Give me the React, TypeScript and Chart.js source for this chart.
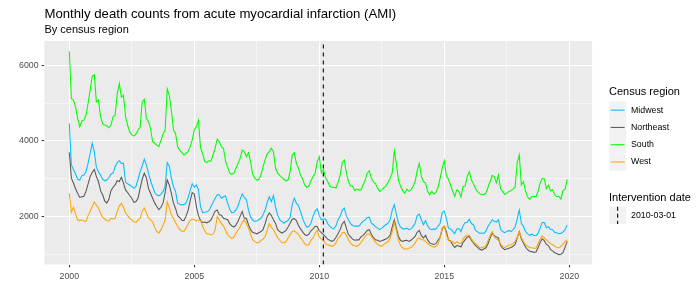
import React, { useEffect, useRef } from 'react';
import { Chart, registerables } from 'chart.js';

Chart.register(...registerables);

const FONT = '"Liberation Sans", Arial, Helvetica, sans-serif';

const titleText = 'Monthly death counts from acute myocardial infarction (AMI)';
const subtitleText = 'By census region';
const startYear = 2000;
const xTicks = [2000, 2002.5, 2005, 2007.5, 2010, 2012.5, 2015, 2017.5, 2020];
const yTicks = [1000, 2000, 3000, 4000, 5000, 6000];
const interventionLabel = '2010-03-01';
const interventionDate = 2010 + 59 / 365;

const regions = ['Midwest', 'Northeast', 'South', 'West'];
const colors = ['#00BFFF', '#595959', '#00FF00', '#FFA500'];

// Monthly counts, Jan 2000 .. Dec 2019 (one row per year)
const midwest = [
  4460, 3370, 3250, 3130, 2990, 2970, 3080, 3100, 3190, 3410, 3670, 3940,
  3720, 3310, 3190, 3100, 2990, 2950, 2970, 3030, 3130, 3150, 3320, 3430,
  3480, 3410, 3410, 2910, 2870, 2840, 2800, 2750, 2800, 2990, 3190, 3340,
  3520, 3370, 3150, 2950, 2800, 2640, 2580, 2550, 2590, 2670, 2800, 3430,
  3340, 3020, 2800, 2670, 2360, 2330, 2310, 2320, 2360, 2500, 2690, 2870,
  2780, 2840, 2710, 2270, 2110, 2120, 2130, 2160, 2270, 2380, 2490, 2580,
  2580, 2490, 2530, 2550, 2360, 2200, 2110, 2120, 2180, 2290, 2460, 2600,
  2510, 2450, 2180, 1990, 1920, 1880, 1890, 1920, 1960, 2050, 2180, 2380,
  2530, 2400, 2560, 2250, 2050, 1920, 1880, 1830, 1870, 1900, 1990, 2320,
  2490, 2360, 2290, 2140, 1960, 1820, 1720, 1750, 1830, 2010, 2150, 2210,
  2030, 1920, 1940, 1940, 1820, 1750, 1700, 1680, 1760, 1920, 2010, 2170,
  2230, 2030, 1920, 1820, 1770, 1750, 1760, 1750, 1820, 1880, 1920, 1980,
  1990, 1830, 1790, 1740, 1700, 1660, 1700, 1750, 1790, 1830, 1920, 2170,
  2320, 2070, 1830, 1730, 1680, 1680, 1700, 1660, 1680, 1740, 1830, 2030,
  2070, 1920, 1790, 1900, 1760, 1680, 1660, 1680, 1670, 1750, 1830, 2110,
  2150, 1960, 1700, 1680, 1620, 1550, 1680, 1690, 1610, 1760, 1850, 1850,
  1940, 1820, 1790, 1640, 1600, 1560, 1570, 1560, 1620, 1750, 1830, 1920,
  1880, 1860, 1920, 1670, 1610, 1580, 1610, 1640, 1610, 1660, 1730, 1940,
  2180, 1830, 1750, 1610, 1550, 1510, 1540, 1510, 1500, 1560, 1700, 1850,
  1850, 1710, 1740, 1670, 1660, 1590, 1570, 1560, 1560, 1600, 1660, 1780,
];

const northeast = [
  3700, 3020, 2890, 2740, 2620, 2510, 2530, 2540, 2670, 2860, 3060, 3170,
  3250, 3060, 2930, 2690, 2580, 2420, 2360, 2460, 2690, 2780, 2840, 2950,
  2930, 3040, 2890, 2710, 2640, 2560, 2490, 2380, 2400, 2490, 2750, 2990,
  3150, 3030, 2750, 2620, 2490, 2360, 2270, 2190, 2250, 2360, 2640, 2970,
  2840, 2620, 2360, 2220, 2030, 1980, 1910, 1900, 2010, 2160, 2420, 2640,
  2600, 2270, 2030, 1900, 1850, 1860, 1840, 1870, 1920, 2030, 2150, 2180,
  2050, 2040, 1960, 1940, 1920, 1820, 1760, 1730, 1780, 1880, 2010, 2140,
  1960, 1960, 1790, 1660, 1590, 1570, 1550, 1580, 1610, 1660, 1820, 2010,
  2100, 2030, 1920, 1820, 1660, 1610, 1570, 1600, 1640, 1730, 1830, 1940,
  1950, 1900, 1770, 1680, 1600, 1530, 1500, 1540, 1630, 1680, 1750, 1745,
  1630, 1580, 1530, 1470, 1410, 1380, 1350, 1380, 1460, 1550, 1660, 1810,
  1880, 1700, 1530, 1470, 1410, 1380, 1390, 1390, 1470, 1510, 1570, 1640,
  1660, 1540, 1450, 1390, 1380, 1350, 1370, 1390, 1410, 1450, 1510, 1730,
  1920, 1700, 1480, 1380, 1350, 1370, 1380, 1350, 1380, 1430, 1480, 1590,
  1640, 1500, 1440, 1510, 1390, 1310, 1290, 1270, 1290, 1380, 1460, 1680,
  1750, 1610, 1390, 1360, 1260, 1190, 1240, 1230, 1200, 1320, 1390, 1460,
  1480, 1380, 1310, 1240, 1190, 1140, 1120, 1150, 1180, 1290, 1440, 1570,
  1500, 1470, 1440, 1240, 1170, 1130, 1150, 1170, 1190, 1220, 1270, 1440,
  1610, 1410, 1310, 1200, 1130, 1090, 1080, 1060, 1070, 1180, 1320, 1420,
  1370, 1270, 1240, 1130, 1100, 1050, 1030, 1000, 1010, 1060, 1200, 1350,
];

const south = [
  6370, 5120, 5080, 4900, 4600, 4380, 4530, 4550, 4680, 4990, 5340, 5710,
  5750, 5030, 5080, 4640, 4450, 4420, 4400, 4350, 4420, 4640, 4680, 5250,
  5520, 5160, 5210, 4640, 4420, 4240, 4160, 4130, 4180, 4290, 4360, 5030,
  5100, 4600, 4510, 4330, 3980, 3940, 3890, 3850, 4020, 4180, 4290, 5380,
  5200, 4810, 4290, 4200, 3850, 3760, 3700, 3630, 3670, 3720, 3850, 4030,
  4290, 4380, 4550, 3810, 3670, 3460, 3430, 3480, 3470, 3630, 3810, 4050,
  3980, 3850, 3810, 3470, 3310, 3150, 3120, 3150, 3280, 3410, 3540, 3760,
  3720, 3590, 3690, 3460, 3130, 3020, 2970, 2990, 3100, 3320, 3500, 3660,
  3720, 3810, 3720, 3280, 3150, 3090, 3040, 2990, 2950, 2970, 3190, 3630,
  3690, 3410, 3280, 3100, 2990, 2840, 2780, 2810, 2950, 3060, 3150, 3450,
  3590, 3170, 3250, 3030, 2930, 2810, 2780, 2780, 2760, 2900, 3100, 3430,
  3500, 3150, 2930, 2810, 2810, 2690, 2730, 2710, 2700, 2840, 2960, 3150,
  3210, 3020, 2920, 2870, 2750, 2670, 2710, 2770, 2810, 2910, 3020, 3150,
  3740, 3410, 2970, 2810, 2690, 2620, 2730, 2670, 2710, 2800, 2930, 3220,
  3410, 3060, 2930, 2890, 2670, 2580, 2670, 2600, 2640, 2780, 3020, 3280,
  3480, 3080, 2990, 2840, 2680, 2540, 2710, 2670, 2520, 2800, 2810, 3060,
  3190, 2970, 2870, 2740, 2660, 2610, 2580, 2580, 2620, 2780, 2930, 3090,
  3060, 2900, 3100, 2740, 2670, 2590, 2620, 2670, 2690, 2730, 2780, 3430,
  3630, 2840, 2930, 2680, 2520, 2460, 2530, 2540, 2530, 2670, 2890, 3010,
  3000, 2740, 2830, 2680, 2710, 2580, 2530, 2540, 2470, 2690, 2730, 2990,
];

const west = [
  2620, 2120, 2250, 2070, 1920, 1900, 1920, 1890, 1880, 2030, 2140, 2270,
  2390, 2310, 2230, 2100, 1990, 1940, 1900, 1890, 1960, 1940, 1960, 2140,
  2290, 2350, 2250, 2100, 2030, 1960, 1920, 1870, 1850, 1910, 1960, 2140,
  2230, 2110, 1960, 1920, 1860, 1720, 1610, 1570, 1660, 1780, 1920, 2390,
  2250, 2050, 1960, 1850, 1750, 1660, 1620, 1620, 1700, 1810, 1900, 1940,
  1920, 1890, 1920, 1900, 1750, 1630, 1550, 1550, 1520, 1540, 1660, 2000,
  1920, 1820, 1760, 1640, 1530, 1470, 1430, 1460, 1570, 1650, 1730, 1850,
  1920, 1820, 1700, 1540, 1390, 1350, 1310, 1320, 1370, 1410, 1480, 1640,
  1820, 1720, 1670, 1560, 1450, 1380, 1320, 1310, 1340, 1440, 1530, 1610,
  1630, 1580, 1540, 1440, 1380, 1290, 1250, 1260, 1380, 1440, 1560, 1650,
  1460, 1410, 1380, 1290, 1260, 1240, 1220, 1240, 1310, 1430, 1480, 1580,
  1590, 1510, 1390, 1310, 1250, 1240, 1220, 1250, 1320, 1400, 1480, 1540,
  1550, 1490, 1410, 1330, 1270, 1240, 1220, 1270, 1310, 1340, 1440, 1610,
  1850, 1640, 1390, 1240, 1180, 1150, 1150, 1170, 1190, 1240, 1310, 1410,
  1440, 1400, 1390, 1350, 1290, 1250, 1220, 1200, 1220, 1270, 1440, 1700,
  1750, 1530, 1380, 1350, 1350, 1290, 1340, 1310, 1290, 1410, 1480, 1510,
  1510, 1420, 1340, 1290, 1240, 1190, 1180, 1200, 1240, 1370, 1500, 1610,
  1480, 1410, 1390, 1270, 1220, 1180, 1220, 1250, 1260, 1290, 1350, 1460,
  1610, 1440, 1350, 1260, 1220, 1190, 1180, 1170, 1170, 1290, 1410, 1490,
  1440, 1390, 1340, 1290, 1260, 1230, 1180, 1180, 1220, 1280, 1350, 1390,
];

const seriesValues = [midwest, northeast, south, west];

const toPoints = (vals: number[]) =>
  vals.map((v, i) => ({ x: startYear + i / 12, y: v }));

const X_MIN = 1999.004;
const X_MAX = 2020.913;
const Y_MIN = 740;
const Y_MAX = 6640;

const panelPlugin = {
  id: 'panelBg',
  beforeDraw(chart: any) {
    const { ctx, chartArea: a } = chart;
    ctx.save();
    ctx.fillStyle = '#FFFFFF';
    ctx.fillRect(0, 0, chart.width, chart.height);
    ctx.fillStyle = '#EBEBEB';
    ctx.fillRect(a.left, a.top, a.right - a.left, a.bottom - a.top);
    ctx.restore();
  },
};

const decorPlugin = {
  id: 'decor',
  afterDraw(chart: any) {
    const { ctx, chartArea: a } = chart;
    ctx.save();
    ctx.textAlign = 'left';
    ctx.fillStyle = '#000000';
    ctx.textBaseline = 'alphabetic';
    ctx.font = `13.2px ${FONT}`;
    ctx.fillText(titleText, a.left, 17.7);
    ctx.font = `11px ${FONT}`;
    ctx.fillText(subtitleText, a.left, 33.3);

    // Legend: Census region
    const lx = 609;
    const key = 17.28;
    ctx.font = `11px ${FONT}`;
    ctx.fillText('Census region', lx, 94.5);
    const top1 = 101.5;
    regions.forEach((r, i) => {
      const y0 = top1 + i * key;
      ctx.fillStyle = '#F2F2F2';
      ctx.fillRect(lx, y0, key, key);
      ctx.strokeStyle = colors[i];
      ctx.lineWidth = 1.07;
      ctx.setLineDash([]);
      ctx.beginPath();
      ctx.moveTo(lx + 1.7, y0 + key / 2);
      ctx.lineTo(lx + key - 1.7, y0 + key / 2);
      ctx.stroke();
      ctx.fillStyle = '#000000';
      ctx.font = `8.8px ${FONT}`;
      ctx.textBaseline = 'middle';
      ctx.fillText(r, 631, y0 + key / 2);
      ctx.textBaseline = 'alphabetic';
    });

    // Legend: Intervention date
    ctx.font = `11px ${FONT}`;
    ctx.fillStyle = '#000000';
    ctx.fillText('Intervention date', lx, 200.7);
    const t2 = 206.7;
    ctx.fillStyle = '#F2F2F2';
    ctx.fillRect(lx, t2, key, key);
    ctx.strokeStyle = '#000000';
    ctx.lineWidth = 1.07;
    ctx.setLineDash([4, 3]);
    ctx.beginPath();
    ctx.moveTo(lx + key / 2, t2);
    ctx.lineTo(lx + key / 2, t2 + key);
    ctx.stroke();
    ctx.setLineDash([]);
    ctx.fillStyle = '#000000';
    ctx.font = `8.8px ${FONT}`;
    ctx.textBaseline = 'middle';
    ctx.fillText(interventionLabel, 631, t2 + key / 2);
    ctx.restore();
  },
};

export default function App() {
  const canvasRef = useRef<HTMLCanvasElement | null>(null);

  useEffect(() => {
    const canvas = canvasRef.current;
    if (!canvas) return;

    const datasets: any[] = seriesValues.map((vals, i) => ({
      label: regions[i],
      data: toPoints(vals),
      borderColor: colors[i],
      backgroundColor: colors[i],
      borderWidth: 1.07,
      pointRadius: 0,
      tension: 0,
      fill: false,
      order: 4 - i,
    }));
    datasets.push({
      label: interventionLabel,
      data: [
        { x: interventionDate, y: Y_MIN },
        { x: interventionDate, y: Y_MAX },
      ],
      borderColor: '#000000',
      borderWidth: 1.07,
      borderDash: [4, 4],
      pointRadius: 0,
      fill: false,
      order: 0,
    });

    const gridCommon = (isMajor: (v: number) => boolean) => ({
      color: '#FFFFFF',
      lineWidth: (c: any) => (isMajor(c.tick?.value) ? 1.07 : 0.53),
      tickColor: (c: any) => (isMajor(c.tick?.value) ? '#333333' : 'rgba(0,0,0,0)'),
      tickLength: 2.75,
      tickWidth: 1.07,
      drawTicks: true,
      drawOnChartArea: true,
    });

    const chart = new Chart(canvas, {
      type: 'line',
      data: { datasets },
      options: {
        animation: false,
        responsive: false,
        devicePixelRatio: 1,
        layout: { padding: { top: 41, right: 107.9, left: 0, bottom: 0 } },
        plugins: {
          legend: { display: false },
          title: { display: false },
          tooltip: { enabled: false },
        },
        elements: { point: { radius: 0 }, line: { tension: 0 } },
        scales: {
          x: {
            type: 'linear',
            min: X_MIN,
            max: X_MAX,
            afterBuildTicks: (s: any) => {
              s.ticks = xTicks.map((v) => ({ value: v }));
            },
            afterFit: (s: any) => {
              s.height = 35.5;
            },
            grid: gridCommon((v) => v % 5 === 0) as any,
            border: { display: false },
            ticks: {
              autoSkip: false,
              maxRotation: 0,
              minRotation: 0,
              padding: 4,
              color: '#4D4D4D',
              font: { family: FONT, size: 8.8 },
              callback: (v: any) => (Number(v) % 5 === 0 ? String(v) : ''),
            },
          },
          y: {
            type: 'linear',
            min: Y_MIN,
            max: Y_MAX,
            afterBuildTicks: (s: any) => {
              s.ticks = yTicks.map((v) => ({ value: v }));
            },
            afterFit: (s: any) => {
              s.width = 44.4;
            },
            grid: gridCommon((v) => v % 2000 === 0) as any,
            border: { display: false },
            ticks: {
              padding: 3,
              color: '#4D4D4D',
              font: { family: FONT, size: 8.8 },
              callback: (v: any) => (Number(v) % 2000 === 0 ? String(v) : ''),
            },
          },
        },
      } as any,
      plugins: [panelPlugin, decorPlugin],
    });

    return () => chart.destroy();
  }, []);

  return (
    <div
      style={{
        position: 'fixed',
        left: 0,
        top: 0,
        width: 700,
        height: 300,
        background: '#FFFFFF',
      }}
    >
      <canvas ref={canvasRef} width={700} height={300} style={{ display: 'block', width: 700, height: 300 }} />
    </div>
  );
}
